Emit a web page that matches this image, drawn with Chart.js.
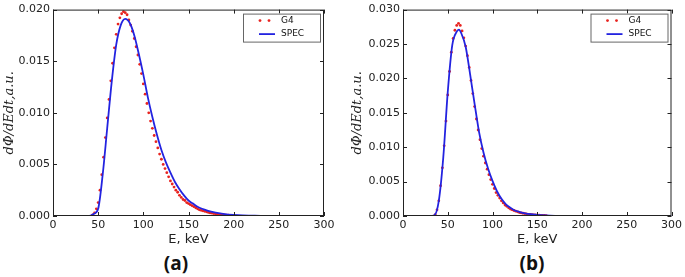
<!DOCTYPE html>
<html>
<head>
<meta charset="utf-8">
<script src="https://cdn.jsdelivr.net/npm/chart.js@4.4.1/dist/chart.umd.min.js"></script>
<style>
  body { margin: 0; background: #fff; width: 685px; height: 277px; position: relative; overflow: hidden; }
  .box { position: absolute; top: 0; width: 340px; height: 250px; }
  .lbl { position: absolute; top: 250px; line-height: 26px; font: bold 19px "Open Sans", sans-serif; color: #111; transform: translateX(-50%); }
</style>
</head>
<body>
<div class="box" style="left:0"><canvas id="chartA"></canvas></div>
<div class="box" style="left:345px"><canvas id="chartB"></canvas></div>
<div class="lbl" style="left:176px">(a)</div>
<div class="lbl" style="left:532px">(b)</div>
<script>
// x ticks (keV)
const energyTicks = [0, 50, 100, 150, 200, 250, 300];

// panel (a) - SPEC curve
const specEnergyA = [0, 40, 45, 50, 55, 60, 65, 70, 75, 80, 85, 90, 95, 100, 105, 110, 115, 120, 125, 130,
  135, 140, 145, 150, 155, 160, 165, 170, 175, 180, 190, 200, 210, 220, 230, 240, 300];
const specFluxA = [0, 0, 0.0002, 0.0007, 0.0040, 0.0085, 0.0130, 0.0166, 0.0185, 0.0191, 0.0187, 0.0175, 0.0157, 0.0137, 0.0115, 0.0096, 0.0079, 0.0064, 0.0052, 0.0042,
  0.0033, 0.0026, 0.0020, 0.0015, 0.0012, 0.0009, 0.0007, 0.00055, 0.00042, 0.00032, 0.00018, 0.0001, 0.00005, 0.00003, 0.00001, 0, 0];

// panel (a) - G4 points
const g4EnergyA = [44, 46, 48, 50, 52, 54, 56, 58, 60, 62, 64, 66, 68, 70, 72, 74, 76, 78, 80, 82, 84, 86, 88, 90, 92, 94, 96, 98,
  100, 102, 104, 106, 108, 110, 112, 114, 116, 118, 120, 122, 124, 126, 128, 130, 132, 134, 136, 138, 140, 142, 144, 146, 148,
  150, 152, 154, 156, 158, 160, 162, 164, 166, 168, 170, 172, 174, 176, 178, 180, 182, 184, 186, 188, 190, 192, 194, 196, 198, 200];
const g4FluxA = [0.0001, 0.0003, 0.0007, 0.0013, 0.0025, 0.0040, 0.0057, 0.0076, 0.0095, 0.0113, 0.0131, 0.0148, 0.0163, 0.0176, 0.0186, 0.0192, 0.0196, 0.0198, 0.0197, 0.0195, 0.0190, 0.0185, 0.0179, 0.0172, 0.0164, 0.0156, 0.0147, 0.0138,
  0.0128, 0.0118, 0.0109, 0.0100, 0.0092, 0.0085, 0.0078, 0.0072, 0.0066, 0.0060, 0.0055, 0.0050, 0.0046, 0.0042, 0.0038, 0.0034, 0.0031, 0.0028, 0.0025, 0.0023, 0.0020, 0.0018, 0.0016, 0.0015, 0.0013,
  0.0012, 0.0011, 0.0010, 0.0009, 0.0008, 0.0007, 0.0006, 0.00055, 0.0005, 0.00045, 0.0004, 0.00035, 0.0003, 0.00027, 0.00024, 0.0002, 0.00018, 0.00016, 0.00014, 0.00012, 0.0001, 0.00009, 0.00008, 0.00007, 0.00006, 0.00005];

// panel (b) - SPEC curve
const specEnergyB = [0, 30, 35, 40, 45, 50, 55, 60, 62.5, 65, 70, 75, 80, 85, 90, 95, 100, 105, 110, 115, 120, 125, 130, 135, 140, 150, 160, 170, 180, 190, 300];
const specFluxB = [0, 0, 0.0001, 0.0022, 0.0085, 0.0180, 0.0248, 0.0268, 0.0271, 0.0266, 0.0246, 0.0206, 0.0163, 0.0122, 0.0092, 0.0069, 0.0051, 0.0036, 0.0025, 0.0017, 0.0012, 0.0008, 0.0006, 0.0004, 0.0003, 0.00015, 0.00007, 0.00003, 0.00001, 0, 0];

// panel (b) - G4 points
const g4EnergyB = [36, 38, 40, 42, 44, 46, 48, 50, 52, 54, 56, 58, 60, 62, 64, 66, 68, 70, 72, 74, 76, 78, 80, 82, 84, 86, 88, 90, 92, 94, 96, 98,
  100, 102, 104, 106, 108, 110, 112, 114, 116, 118, 120, 122, 124, 126, 128, 130, 132, 134, 136, 138, 140, 142, 144, 146, 148, 150, 152, 154, 156, 158, 160];
const g4FluxB = [0.0002, 0.0009, 0.0022, 0.0044, 0.0070, 0.0102, 0.0138, 0.0176, 0.0210, 0.0238, 0.0258, 0.0270, 0.0277, 0.0280, 0.0277, 0.0269, 0.0259, 0.0247, 0.0233, 0.0216, 0.0197, 0.0178, 0.0159, 0.0141, 0.0125, 0.0111, 0.0098, 0.0087, 0.0077, 0.0068, 0.0060, 0.0053,
  0.0046, 0.0040, 0.0034, 0.0030, 0.0026, 0.0022, 0.0019, 0.0016, 0.0014, 0.0012, 0.0010, 0.0009, 0.0008, 0.0007, 0.0006, 0.0005, 0.00045, 0.0004, 0.00035, 0.0003, 0.00025, 0.00022, 0.0002, 0.00017, 0.00015, 0.00013, 0.00011, 0.0001, 0.00008, 0.00007, 0.00006];

const seriesNames = ['G4', 'SPEC'];
const RED = '#e8231f';
const BLUE = '#2323e0';

// matplotlib-ish frame, inward ticks and legend box
const framePlugin = {
  id: 'frame',
  afterDraw(chart) {
    const ctx = chart.ctx;
    const a = chart.chartArea;
    const x = chart.scales.x, y = chart.scales.y;
    ctx.save();
    ctx.strokeStyle = '#222';
    ctx.lineWidth = 1;
    ctx.strokeRect(a.left + 0.5, a.top + 0.5, a.width - 1, a.height - 1);
    ctx.beginPath();
    x.ticks.forEach(t => {
      const px = Math.round(x.getPixelForValue(t.value)) + 0.5;
      ctx.moveTo(px, a.bottom); ctx.lineTo(px, a.bottom - 4);
      ctx.moveTo(px, a.top); ctx.lineTo(px, a.top + 4);
    });
    y.ticks.forEach(t => {
      const py = Math.round(y.getPixelForValue(t.value)) + 0.5;
      ctx.moveTo(a.left, py); ctx.lineTo(a.left + 4, py);
      ctx.moveTo(a.right, py); ctx.lineTo(a.right - 4, py);
    });
    ctx.stroke();

    // legend
    const w = 77, h = 28;
    const lx = a.right - 4 - w, ly = a.top + 4;
    ctx.fillStyle = '#fff';
    ctx.fillRect(lx, ly, w, h);
    ctx.strokeStyle = '#666';
    ctx.strokeRect(lx + 0.5, ly + 0.5, w, h);
    ctx.fillStyle = RED;
    [17, 26].forEach(dx => { ctx.beginPath(); ctx.arc(lx + dx, ly + 7, 1.4, 0, Math.PI * 2); ctx.fill(); });
    ctx.strokeStyle = BLUE;
    ctx.lineWidth = 1.8;
    ctx.beginPath(); ctx.moveTo(lx + 16, ly + 20.5); ctx.lineTo(lx + 32, ly + 20.5); ctx.stroke();
    ctx.fillStyle = '#111';
    ctx.font = '9px "DejaVu Sans"';
    ctx.textBaseline = 'middle';
    ctx.fillText(seriesNames[0], lx + 38, ly + 7);
    ctx.fillText(seriesNames[1], lx + 38, ly + 20.5);
    ctx.restore();
  }
};

function makeChart(id, specE, specF, g4E, g4F, yMax, axisWidth, padRight, titlePad) {
  const ctx = document.getElementById(id).getContext('2d');
  return new Chart(ctx, {
    type: 'scatter',
    data: {
      datasets: [{
        label: seriesNames[0],
        data: g4E.map((e, i) => ({ x: e, y: g4F[i] })),
        backgroundColor: RED,
        borderWidth: 0,
        pointRadius: 1.4,
        order: 1
      }, {
        label: seriesNames[1],
        data: specE.map((e, i) => ({ x: e, y: specF[i] })),
        showLine: true,
        borderColor: BLUE,
        borderWidth: 1.8,
        pointRadius: 0,
        cubicInterpolationMode: 'monotone',
        order: 0
      }]
    },
    options: {
      responsive: true,
      maintainAspectRatio: false,
      animation: false,
      layout: { padding: { top: 7, right: padRight, left: 0, bottom: 0 } },
      plugins: { legend: { display: false }, tooltip: { enabled: false } },
      scales: {
        x: {
          type: 'linear', min: 0, max: 300,
          afterBuildTicks: s => { s.ticks = energyTicks.map(v => ({ value: v })); },
          afterFit: s => { s.height = 34; },
          grid: { display: false, drawTicks: false },
          border: { display: false },
          ticks: { padding: 3, color: '#222', font: { family: 'DejaVu Sans', size: 11 } },
          title: { display: true, text: 'E, keV', color: '#222', padding: { top: 0, bottom: 3 }, font: { family: 'DejaVu Sans', size: 13 } }
        },
        y: {
          type: 'linear', min: 0, max: yMax,
          afterFit: s => { s.width = axisWidth; },
          grid: { display: false, drawTicks: false },
          border: { display: false },
          ticks: { stepSize: 0.005, padding: 3, color: '#222', font: { family: 'DejaVu Sans', size: 11 },
                   callback: v => v.toFixed(3) },
          title: { display: true, text: 'dΦ/dEdt,a.u.', color: '#222', padding: { top: titlePad, bottom: 0 },
                   font: { family: 'DejaVu Serif', style: 'italic', size: 13 } }
        }
      }
    },
    plugins: [framePlugin]
  });
}

makeChart('chartA', specEnergyA, specFluxA, g4EnergyA, g4FluxA, 0.020, 53, 16, 2);
makeChart('chartB', specEnergyB, specFluxB, g4EnergyB, g4FluxB, 0.030, 58, 11, 5);
</script>
</body>
</html>
